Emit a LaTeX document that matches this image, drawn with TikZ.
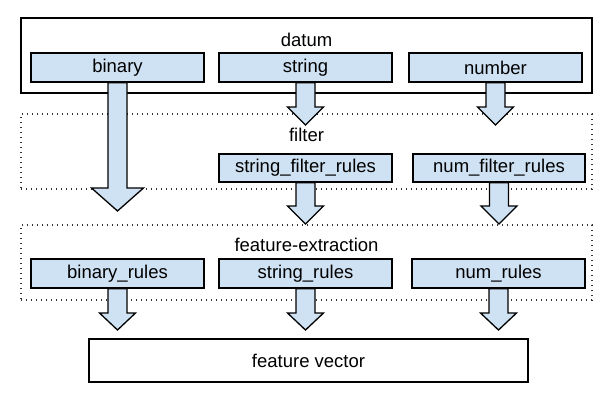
\documentclass[tikz,border=0pt]{standalone}
\usepackage{fontspec}
\setmainfont{Liberation Sans}
\usetikzlibrary{calc}
\definecolor{boxblue}{HTML}{CFE2F3}
\tikzset{
  lbl/.style={inner sep=0pt, font=\fontsize{18.5}{22}\selectfont},
  bluebox/.style={draw=black, fill=boxblue, line width=1.3pt, minimum width=173pt, minimum height=29pt, inner sep=0pt, font=\fontsize{18.5}{22}\selectfont},
  solidframe/.style={draw=black, line width=1.3pt},
  dotframe/.style={draw=black!80, line width=1.6pt, dash pattern=on 1.4pt off 3.6pt},
  fatarrow/.style={draw=black, fill=boxblue, line width=1.3pt, line join=miter},
}
% #1 start node anchor, #2 tip coordinate, #3 head length, #4 head half width
\newcommand\fatarr[4]{%
  \draw[fatarrow] let \p1=(#1), \p2=(#2) in
    (\x1-9.5pt,\y1) -- (\x1-9.5pt,\y2+#3pt) -- (\x1-#4pt,\y2+#3pt) -- (\x1,\y2)
    -- (\x1+#4pt,\y2+#3pt) -- (\x1+9.5pt,\y2+#3pt) -- (\x1+9.5pt,\y1) -- cycle;}
\begin{document}
\begin{tikzpicture}[x=1pt,y=-1pt]
\useasboundingbox[fill=white] (0,0) rectangle (615,412);
% frames
\node[solidframe, minimum width=571pt, minimum height=75pt, inner sep=0pt] (datum) at (306.5,55.5) {};
\node[lbl] (datumlbl) at (306.5,40) {datum};
\node[dotframe, minimum width=571pt, minimum height=75pt, inner sep=0pt] (filter) at (306.5,151.5) {};
\node[lbl] (filterlbl) at (306.5,135) {filter};
\node[dotframe, minimum width=571pt, minimum height=75pt, inner sep=0pt] (fe) at (306.5,262.5) {};
\node[lbl] (felbl) at (306.5,245) {feature-extraction};
% boxes
\node[bluebox] (binary) at (117.5,67.5) {binary};
\node[bluebox] (string) at (305.5,67.5) {string};
\node[bluebox] (number) at (495.5,67.5) {number};
\node[bluebox, minimum height=28pt] (sfr) at (305.5,168) {string\_filter\_rules};
\node[bluebox, minimum height=28pt, minimum width=172pt] (nfr) at (499,168) {num\_filter\_rules};
\node[bluebox] (br) at (117.5,273.5) {binary\_rules};
\node[bluebox] (sr) at (305.5,273.5) {string\_rules};
\node[bluebox] (nr) at (498.5,273.5) {num\_rules};
\node[solidframe, minimum width=439pt, minimum height=43pt, inner sep=0pt, font=\fontsize{18.5}{22}\selectfont] (fv) at (308.5,360.5) {feature vector};
% arrow tips
\coordinate (tbin) at (117.5,211);
\coordinate (tstr) at (305.5,125);
\coordinate (tnum) at (495.5,125);
\coordinate (tsfr) at (305.5,224);
\coordinate (tnfr) at (499,224);
\coordinate (tbr) at (117.5,330);
\coordinate (tsr) at (305.5,330);
\coordinate (tnr) at (498.5,330);
% arrows
\fatarr{binary.south}{tbin}{23}{26}
\fatarr{string.south}{tstr}{18}{18}
\fatarr{number.south}{tnum}{18}{18}
\fatarr{sfr.south}{tsfr}{18}{18}
\fatarr{nfr.south}{tnfr}{18}{18}
\fatarr{br.south}{tbr}{17}{18}
\fatarr{sr.south}{tsr}{17}{18}
\fatarr{nr.south}{tnr}{17}{18}
\end{tikzpicture}
\end{document}
